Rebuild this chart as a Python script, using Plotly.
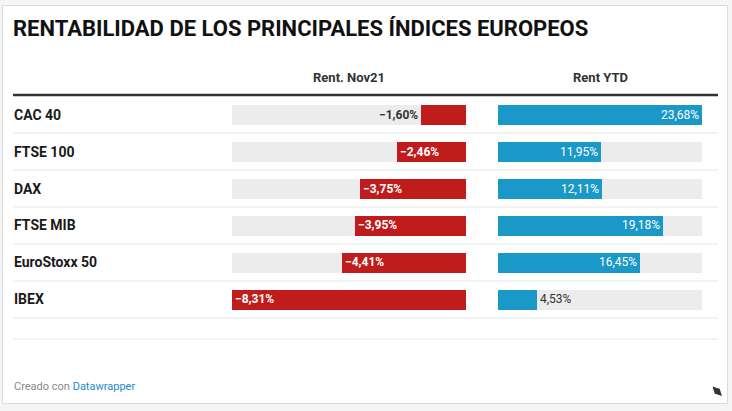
import plotly.graph_objects as go

# ---- data ----
categories = ["CAC 40", "FTSE 100", "DAX", "FTSE MIB", "EuroStoxx 50", "IBEX"]
rent_nov21 = [-1.60, -2.46, -3.75, -3.95, -4.41, -8.31]
rent_ytd = [23.68, 11.95, 12.11, 19.18, 16.45, 4.53]
col_titles = ["Rent. Nov21", "Rent YTD"]
title = "RENTABILIDAD DE LOS PRINCIPALES ÍNDICES EUROPEOS"

W, H = 732, 411
def px(x):
    return x / W
def py(y):
    return 1 - y / H

RED = "#c01c1c"
BLUE = "#1a98c8"
TRACK = "#ececec"
FONT = "Roboto"

def fmt(v):
    s = f"{abs(v):.2f}".replace(".", ",") + "%"
    return ("\u2212" + s) if v < 0 else s

max1 = max(abs(v) for v in rent_nov21)
max2 = max(abs(v) for v in rent_ytd)

col1 = (232, 466)
col2 = (498, 702)
row_top, row_bot = 96.5, 317.5
bar_w = 20 / ((row_bot - row_top) / len(categories))

fig = go.Figure()
# tracks
fig.add_trace(go.Bar(y=categories, x=[-max1] * len(categories), orientation="h",
                     marker=dict(color=TRACK, line=dict(width=0)), width=bar_w,
                     xaxis="x", yaxis="y", hoverinfo="skip", showlegend=False))
fig.add_trace(go.Bar(y=categories, x=rent_nov21, orientation="h",
                     marker=dict(color=RED, line=dict(width=0)), width=bar_w,
                     xaxis="x", yaxis="y", showlegend=False))
fig.add_trace(go.Bar(y=categories, x=[max2] * len(categories), orientation="h",
                     marker=dict(color=TRACK, line=dict(width=0)), width=bar_w,
                     xaxis="x2", yaxis="y2", hoverinfo="skip", showlegend=False))
fig.add_trace(go.Bar(y=categories, x=rent_ytd, orientation="h",
                     marker=dict(color=BLUE, line=dict(width=0)), width=bar_w,
                     xaxis="x2", yaxis="y2", showlegend=False))

ann = []
# value labels
for c, v in zip(categories, rent_nov21):
    wpx = abs(v) / max1 * (col1[1] - col1[0])
    inside = wpx > 50
    ann.append(dict(x=v, y=c, xref="x", yref="y", text=fmt(v), showarrow=False,
                    xanchor="left" if inside else "right", xshift=1 if inside else -1,
                    font=dict(family=FONT, size=12, color="white" if inside else "#333", weight="bold")))
for c, v in zip(categories, rent_ytd):
    wpx = abs(v) / max2 * (col2[1] - col2[0])
    inside = wpx > 50
    ann.append(dict(x=v, y=c, xref="x2", yref="y2", text=fmt(v), showarrow=False,
                    xanchor="right" if inside else "left", xshift=-1 if inside else 1,
                    font=dict(family=FONT, size=12, color="white" if inside else "#333")))
# category labels
for c in categories:
    ann.append(dict(x=px(12), y=c, xref="paper", yref="y", text=c, showarrow=False,
                    xanchor="left", font=dict(family=FONT, size=14, color="#1a1a1a", weight="bold")))
# title & headers
ann.append(dict(x=px(11), y=py(28), xref="paper", yref="paper", text=title, showarrow=False,
                xanchor="left", yanchor="middle",
                font=dict(family=FONT, size=22, color="#111", weight="bold")))
ann.append(dict(x=px((col1[0] + col1[1]) / 2), y=py(77), xref="paper", yref="paper",
                text=col_titles[0], showarrow=False, xanchor="center", yanchor="middle",
                font=dict(family=FONT, size=13, color="#333", weight="bold")))
ann.append(dict(x=px((col2[0] + col2[1]) / 2), y=py(77), xref="paper", yref="paper",
                text=col_titles[1], showarrow=False, xanchor="center", yanchor="middle",
                font=dict(family=FONT, size=13, color="#333", weight="bold")))
# footer
ann.append(dict(x=px(12), y=py(386), xref="paper", yref="paper",
                text="Creado con <span style='color:#1a8bcc'>Datawrapper</span>", showarrow=False,
                xanchor="left", yanchor="middle",
                font=dict(family=FONT, size=11, color="#888")))
# resize icon (double arrow)
ann.append(dict(x=px(722), y=py(396), xref="paper", yref="paper", ax=-11, ay=-11,
                axref="pixel", ayref="pixel", text="", showarrow=True, arrowhead=2,
                arrowside="end+start", arrowsize=1, arrowwidth=1.4, arrowcolor="#333"))

shapes = []
# card
shapes.append(dict(type="rect", xref="paper", yref="paper", x0=px(2.5), x1=px(727.5), y0=py(403.5), y1=py(5.5),
                   fillcolor="white", line=dict(color="#dcdcdc", width=1), layer="below"))
# header rule
shapes.append(dict(type="line", xref="paper", yref="paper", x0=px(13), x1=px(718), y0=py(95), y1=py(95),
                   line=dict(color="#333", width=2.5)))
for yy in [133, 170, 207, 244, 281, 318, 339]:
    shapes.append(dict(type="line", xref="paper", yref="paper", x0=px(13), x1=px(718), y0=py(yy), y1=py(yy),
                       line=dict(color="#e6e6e6", width=1)))

fig.update_layout(
    width=W, height=H, margin=dict(l=0, r=0, t=0, b=0),
    paper_bgcolor="#f5f5f5", plot_bgcolor="rgba(0,0,0,0)",
    barmode="overlay", bargap=0,
    xaxis=dict(domain=[px(col1[0]), px(col1[1])], range=[-max1, 0], visible=False, fixedrange=True),
    xaxis2=dict(domain=[px(col2[0]), px(col2[1])], range=[0, max2], visible=False, fixedrange=True),
    yaxis=dict(domain=[py(row_bot), py(row_top)], type="category", range=[len(categories) - 0.5, -0.5],
               visible=False, fixedrange=True, anchor="x"),
    yaxis2=dict(domain=[py(row_bot), py(row_top)], type="category", range=[len(categories) - 0.5, -0.5],
                visible=False, fixedrange=True, anchor="x2", matches="y"),
    annotations=ann, shapes=shapes, showlegend=False,
)
fig.write_html("out.html", config={"displayModeBar": False},
               post_script="document.body.style.margin='0';document.body.style.overflow='hidden';")
